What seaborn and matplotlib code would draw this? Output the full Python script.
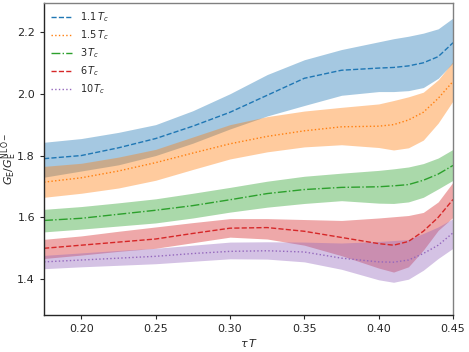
import numpy as np
import pandas as pd
import matplotlib
matplotlib.use('Agg')
import matplotlib.pyplot as plt
import seaborn as sns

# tau*T grid
tau_T = [0.175, 0.20, 0.225, 0.25, 0.275, 0.30, 0.325, 0.35, 0.375, 0.40, 0.41, 0.42, 0.43, 0.44, 0.45]

labels = [r'$1.1\,T_c$', r'$1.5\,T_c$', r'$3\,T_c$', r'$6\,T_c$', r'$10\,T_c$']

# 1.1 Tc
mid_11 = [1.79, 1.80, 1.825, 1.855, 1.895, 1.94, 1.995, 2.05, 2.076, 2.083, 2.085, 2.09, 2.10, 2.12, 2.165]
up_11 = [1.843, 1.855, 1.875, 1.90, 1.945, 2.00, 2.062, 2.11, 2.143, 2.168, 2.178, 2.186, 2.196, 2.21, 2.245]
lo_11 = [1.73, 1.75, 1.77, 1.80, 1.84, 1.886, 1.928, 1.962, 1.995, 2.007, 2.007, 2.01, 2.02, 2.05, 2.10]

# 1.5 Tc
mid_15 = [1.714, 1.728, 1.75, 1.777, 1.808, 1.838, 1.862, 1.88, 1.893, 1.895, 1.90, 1.915, 1.94, 1.985, 2.04]
up_15 = [1.765, 1.775, 1.795, 1.82, 1.86, 1.90, 1.926, 1.944, 1.956, 1.967, 1.978, 1.99, 2.005, 2.045, 2.104]
lo_15 = [1.665, 1.678, 1.695, 1.72, 1.755, 1.789, 1.812, 1.828, 1.835, 1.826, 1.818, 1.825, 1.85, 1.905, 1.977]

# 3 Tc
mid_3 = [1.59, 1.597, 1.61, 1.623, 1.638, 1.657, 1.677, 1.69, 1.697, 1.699, 1.702, 1.706, 1.72, 1.74, 1.768]
up_3 = [1.626, 1.635, 1.647, 1.66, 1.678, 1.697, 1.717, 1.733, 1.743, 1.752, 1.757, 1.763, 1.774, 1.792, 1.82]
lo_3 = [1.553, 1.562, 1.572, 1.582, 1.598, 1.617, 1.633, 1.645, 1.654, 1.646, 1.645, 1.65, 1.665, 1.692, 1.72]

# 6 Tc
mid_6 = [1.50, 1.51, 1.52, 1.53, 1.548, 1.565, 1.567, 1.555, 1.535, 1.515, 1.51, 1.522, 1.555, 1.60, 1.658]
up_6 = [1.529, 1.54, 1.555, 1.569, 1.583, 1.596, 1.596, 1.593, 1.59, 1.598, 1.602, 1.606, 1.616, 1.65, 1.714]
lo_6 = [1.467, 1.478, 1.49, 1.50, 1.518, 1.536, 1.53, 1.51, 1.476, 1.436, 1.423, 1.44, 1.494, 1.558, 1.60]

# 10 Tc
mid_10 = [1.456, 1.462, 1.468, 1.474, 1.483, 1.49, 1.492, 1.488, 1.468, 1.456, 1.455, 1.462, 1.483, 1.51, 1.55]
up_10 = [1.477, 1.485, 1.493, 1.50, 1.51, 1.52, 1.521, 1.52, 1.517, 1.522, 1.525, 1.528, 1.548, 1.569, 1.596]
lo_10 = [1.434, 1.44, 1.445, 1.45, 1.458, 1.466, 1.465, 1.456, 1.432, 1.398, 1.39, 1.40, 1.429, 1.467, 1.50]

mids = [mid_11, mid_15, mid_3, mid_6, mid_10]
ups = [up_11, up_15, up_3, up_6, up_10]
los = [lo_11, lo_15, lo_3, lo_6, lo_10]
styles = ['--', ':', '-.', '--', ':']

sns.set_style('ticks')
colors = sns.color_palette('tab10', 5)

fig, ax = plt.subplots(figsize=(4.69, 3.52), dpi=100)
fig.subplots_adjust(left=0.094, right=0.966, bottom=0.105, top=0.991)

for i in range(5):
    ax.fill_between(tau_T, los[i], ups[i], color=colors[i], alpha=0.4, linewidth=0)
    df = pd.DataFrame({'tauT': tau_T, 'G': mids[i]})
    sns.lineplot(data=df, x='tauT', y='G', ax=ax, color=colors[i],
                 linestyle=styles[i], linewidth=1.0, label=labels[i])

ax.set_xlim(0.175, 0.45)
ax.set_ylim(1.284, 2.293)
ax.set_xticks([0.20, 0.25, 0.30, 0.35, 0.40, 0.45])
ax.set_yticks([1.4, 1.6, 1.8, 2.0, 2.2])
ax.tick_params(labelsize=8, length=3, width=0.8)
ax.set_xlabel(r'$\tau\, T$', fontsize=8, labelpad=2)
ax.set_ylabel(r'$G_{\mathrm{E}}/G_{\mathrm{E}}^{\mathrm{NLO}-}$', fontsize=8)
ax.yaxis.set_label_coords(-0.062, 0.5)

for s in ['top', 'right']:
    ax.spines[s].set_color('gray')
for s in ax.spines.values():
    s.set_linewidth(1.0)

ax.legend(loc='upper left', frameon=False, fontsize=7, handlelength=2.2,
          labelspacing=0.45, borderaxespad=0.3)

fig.savefig('out.png', dpi=100)
